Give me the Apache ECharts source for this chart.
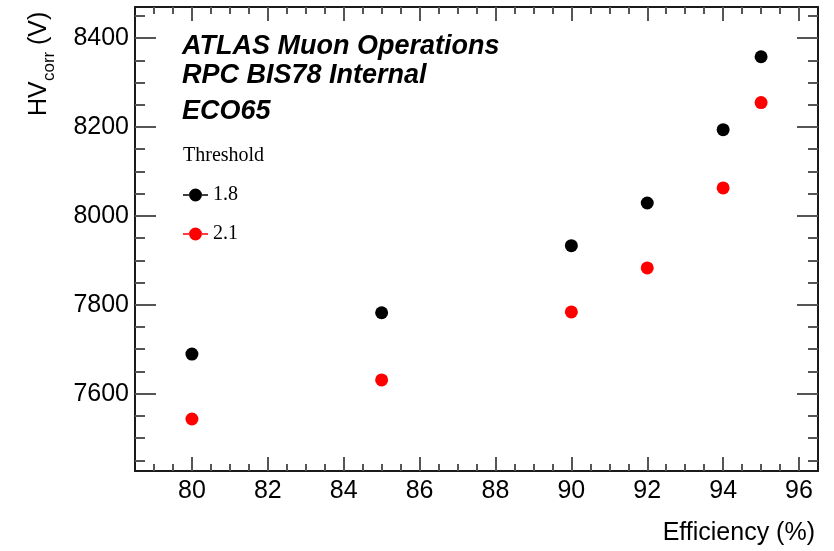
<!DOCTYPE html>
<html>
<head>
<meta charset="utf-8">
<script src="https://cdn.jsdelivr.net/npm/echarts@6/dist/echarts.min.js"></script>
<style>
  html, body { margin: 0; padding: 0; background: #ffffff; }
  #chart { width: 834px; height: 551px; }
</style>
</head>
<body>
<div id="chart"></div>
<script>
// Efficiency working points (%) and the corrected HV needed at each threshold
const efficiency = [80, 85, 90, 92, 94, 95];
const hvThreshold18 = [7689, 7782, 7933, 8029, 8194, 8358];
const hvThreshold21 = [7543, 7631, 7784, 7883, 8063, 8255];
const seriesNames = ['1.8', '2.1'];
const seriesColors = ['#000000', '#ff0000'];

// Axis ranges and labelled ticks
const xRange = [78.5, 96.5];
const yRange = [7426, 8470];
const xMajorTicks = [80, 82, 84, 86, 88, 90, 92, 94, 96];
const yMajorTicks = [7600, 7800, 8000, 8200, 8400];
const xMinorStep = 0.5;
const yMinorStep = 50;

function minorTicks(range, step, majors) {
  const out = [];
  const start = Math.ceil(range[0] / step) * step;
  for (let v = start; v < range[1]; v += step) {
    const r = Math.round(v * 1000) / 1000;
    if (r > range[0] && majors.indexOf(r) < 0) out.push(r);
  }
  return out;
}
const xMinorTicks = minorTicks(xRange, xMinorStep, xMajorTicks);
const yMinorTicks = minorTicks(yRange, yMinorStep, yMajorTicks);

const FONT = '"Liberation Sans", Arial, Helvetica, sans-serif';
const SERIF = '"Liberation Serif", "Times New Roman", serif';
const frameLine = { show: true, lineStyle: { color: '#1a1a1a', width: 2 } };
const tickLine = { color: '#555555', width: 2 };

function makeAxis(kind, position, range, ticks, len, withLine, labelled) {
  return {
    type: 'value',
    position: position,
    min: range[0],
    max: range[1],
    scale: true,
    splitLine: { show: false },
    axisLine: withLine ? frameLine : { show: false },
    axisTick: { show: true, inside: true, length: len, customValues: ticks, lineStyle: tickLine },
    axisLabel: labelled ? {
      show: true,
      customValues: ticks,
      formatter: v => String(v),
      fontFamily: FONT,
      fontSize: 25,
      color: '#000000',
      margin: kind === 'x' ? 8 : 6
    } : { show: false },
    silent: true
  };
}

// Legend icon: short line with a filled round marker in the middle
const legendIcon = 'path://M0,5.8h6.2v1.4h-6.2z M18.8,5.8h6.2v1.4h-6.2z M6,6.5a6.5,6.5 0 1,0 13,0a6.5,6.5 0 1,0 -13,0z';

const chart = echarts.init(document.getElementById('chart'), null, { renderer: 'canvas' });

chart.setOption({
  animation: false,
  backgroundColor: '#ffffff',
  grid: { left: 135, top: 7, width: 683, height: 464, containLabel: false },
  xAxis: [
    makeAxis('x', 'bottom', xRange, xMajorTicks, 14, true, true),
    makeAxis('x', 'bottom', xRange, xMinorTicks, 7, false, false),
    makeAxis('x', 'top', xRange, xMajorTicks, 14, true, false),
    makeAxis('x', 'top', xRange, xMinorTicks, 7, false, false)
  ],
  yAxis: [
    makeAxis('y', 'left', yRange, yMajorTicks, 21, true, true),
    makeAxis('y', 'left', yRange, yMinorTicks, 10, false, false),
    makeAxis('y', 'right', yRange, yMajorTicks, 21, true, false),
    makeAxis('y', 'right', yRange, yMinorTicks, 10, false, false)
  ],
  legend: {
    orient: 'vertical',
    left: 183,
    top: 185,
    padding: 0,
    itemWidth: 25,
    itemHeight: 13,
    itemGap: 19,
    selectedMode: false,
    textStyle: { fontFamily: SERIF, fontSize: 20, color: '#000000' },
    data: seriesNames.map(n => ({ name: n, icon: legendIcon }))
  },
  series: [
    {
      name: seriesNames[0],
      type: 'scatter',
      xAxisIndex: 0,
      yAxisIndex: 0,
      symbol: 'circle',
      symbolSize: 13,
      itemStyle: { color: seriesColors[0], opacity: 1 },
      data: efficiency.map((x, i) => [x, hvThreshold18[i]])
    },
    {
      name: seriesNames[1],
      type: 'scatter',
      xAxisIndex: 0,
      yAxisIndex: 0,
      symbol: 'circle',
      symbolSize: 13,
      itemStyle: { color: seriesColors[1], opacity: 1 },
      data: efficiency.map((x, i) => [x, hvThreshold21[i]])
    }
  ],
  graphic: [
    { type: 'text', left: 182, top: 33, style: { text: 'ATLAS Muon Operations', font: 'italic bold 27px ' + FONT, fill: '#000000' } },
    { type: 'text', left: 182, top: 62, style: { text: 'RPC BIS78 Internal', font: 'italic bold 27px ' + FONT, fill: '#000000' } },
    { type: 'text', left: 182, top: 98, style: { text: 'ECO65', font: 'italic bold 27px ' + FONT, fill: '#000000' } },
    { type: 'text', left: 183, top: 146, style: { text: 'Threshold', font: '20px ' + SERIF, fill: '#000000' } },
    { type: 'text', right: 19, top: 521, style: { text: 'Efficiency (%)', font: '25px ' + FONT, fill: '#000000' } },
    {
      type: 'group',
      x: 52,
      y: 116,
      rotation: Math.PI / 2,
      children: [
        { type: 'text', x: 0, y: 0, style: { text: 'HV', font: '25px ' + FONT, fill: '#000000', verticalAlign: 'bottom' } },
        { type: 'text', x: 35, y: 6, style: { text: 'corr', font: '17px ' + FONT, fill: '#000000', verticalAlign: 'bottom' } },
        { type: 'text', x: 64, y: 0, style: { text: ' (V)', font: '25px ' + FONT, fill: '#000000', verticalAlign: 'bottom' } }
      ]
    }
  ]
});
</script>
</body>
</html>
